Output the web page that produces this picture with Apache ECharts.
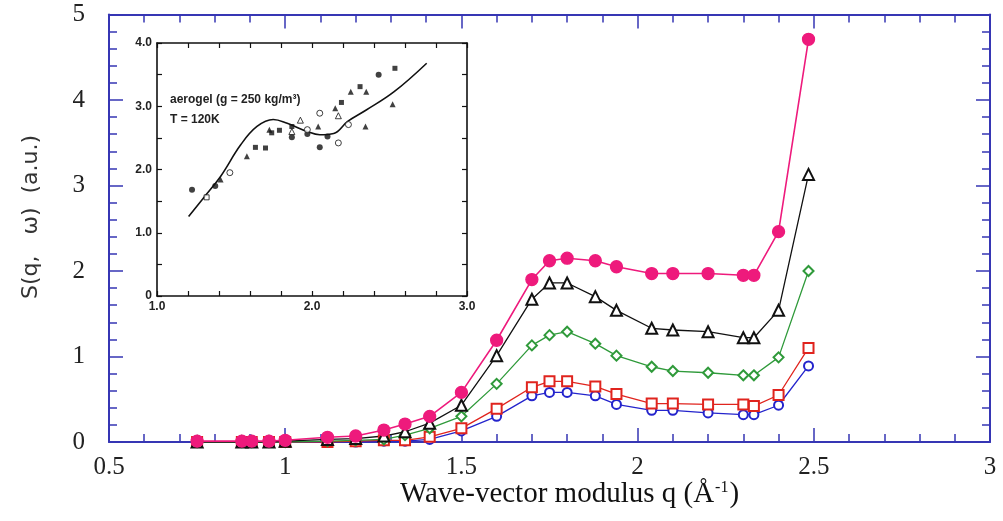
<!DOCTYPE html>
<html>
<head>
<meta charset="utf-8">
<script src="https://cdn.jsdelivr.net/npm/echarts@6/dist/echarts.min.js"></script>
<style>
html, body { margin: 0; padding: 0; background: #fff; }
#chart { width: 1003px; height: 521px; }
</style>
</head>
<body>
<div id="chart"></div>
<script>
// Wave-vector values (Å^-1) shared by all five curves
const qValues = [0.75, 0.877, 0.905, 0.954, 1.0, 1.12, 1.2, 1.28, 1.34, 1.41, 1.5, 1.6, 1.7, 1.75, 1.8, 1.88, 1.94, 2.04, 2.1, 2.2, 2.3, 2.33, 2.4, 2.485];

// S(q, ω) for each curve (a.u.)
const sPink  = [0.01, 0.01, 0.01, 0.01, 0.02, 0.055, 0.07, 0.14, 0.21, 0.30, 0.58, 1.19, 1.90, 2.12, 2.15, 2.12, 2.05, 1.97, 1.97, 1.97, 1.95, 1.95, 2.46, 4.71];
const sBlack = [0, 0, 0, 0, 0.01, 0.03, 0.04, 0.07, 0.12, 0.22, 0.43, 1.01, 1.67, 1.86, 1.86, 1.70, 1.54, 1.33, 1.31, 1.29, 1.22, 1.22, 1.54, 3.13];
const sGreen = [0, 0, 0, 0, 0, 0.01, 0.02, 0.03, 0.08, 0.16, 0.30, 0.68, 1.13, 1.25, 1.29, 1.15, 1.01, 0.88, 0.83, 0.81, 0.78, 0.78, 0.99, 2.00];
const sRed   = [0, 0, 0, 0, 0, 0, 0.01, 0.02, 0.02, 0.06, 0.16, 0.39, 0.64, 0.71, 0.71, 0.65, 0.56, 0.45, 0.45, 0.44, 0.44, 0.42, 0.55, 1.10];
const sBlue  = [0, 0, 0, 0, 0, 0, 0, 0.01, 0.01, 0.03, 0.13, 0.30, 0.54, 0.58, 0.58, 0.54, 0.44, 0.37, 0.37, 0.34, 0.32, 0.32, 0.43, 0.89];

// Inset: aerogel (250 kg/m3), T = 120 K
const insetCurveQ = [1.204, 1.30, 1.41, 1.54, 1.645, 1.75, 1.84, 1.97, 2.05, 2.14, 2.23, 2.35, 2.53, 2.74];
const insetCurveS = [1.256, 1.55, 1.89, 2.39, 2.68, 2.79, 2.73, 2.60, 2.55, 2.57, 2.76, 2.94, 3.23, 3.68];
const insetFilledCircles = [[1.226, 1.68], [1.376, 1.74], [1.87, 2.51], [1.97, 2.56], [2.05, 2.35], [2.10, 2.52], [2.43, 3.50]];
const insetOpenCircles   = [[1.47, 1.95], [1.97, 2.63], [2.05, 2.89], [2.17, 2.42], [2.235, 2.71]];
const insetOpenSquares   = [[1.32, 1.56]];
const insetFilledTris    = [[1.41, 1.84], [1.58, 2.21], [1.725, 2.63], [2.04, 2.68], [2.15, 2.97], [2.25, 3.23], [2.35, 3.23], [2.345, 2.68], [2.52, 3.03]];
const insetOpenTris      = [[1.925, 2.78], [2.17, 2.85], [1.87, 2.60]];
const insetFilledSquares = [[1.635, 2.35], [1.70, 2.34], [1.74, 2.58], [1.79, 2.62], [1.87, 2.68], [2.19, 3.06], [2.31, 3.31], [2.535, 3.60]];

const AXIS_BLUE = '#3636b4';
const pair = (xs, ys) => xs.map((x, i) => [x, ys[i]]);

const chart = echarts.init(document.getElementById('chart'));

function mainAxis(type, position, showLabel, extra) {
  return Object.assign({
    type: 'value',
    gridIndex: 0,
    position: position,
    axisLine: { show: true, onZero: false, lineStyle: { color: AXIS_BLUE, width: 2 } },
    axisTick: { show: true, inside: true, length: 14, lineStyle: { color: AXIS_BLUE, width: 1.5 } },
    minorTick: { show: true, splitNumber: 5, length: 8, lineStyle: { color: AXIS_BLUE, width: 1.5 } },
    splitLine: { show: false },
    axisLabel: showLabel ? {
      show: true,
      fontFamily: 'Liberation Serif',
      fontSize: 25,
      color: '#222',
      margin: type === 'x' ? 13 : 24,
      formatter: v => String(v)
    } : { show: false }
  }, extra);
}

function insetAxis(position, showLabel, extra, minorSplit) {
  return Object.assign({
    type: 'value',
    position: position,
    z: 8,
    axisLine: { show: true, onZero: false, lineStyle: { color: '#111', width: 1.6 } },
    axisTick: { show: true, inside: true, length: 5, lineStyle: { color: '#111', width: 1.2 } },
    minorTick: { show: true, splitNumber: minorSplit, length: 5, lineStyle: { color: '#111', width: 1.2 } },
    splitLine: { show: false },
    axisLabel: showLabel ? {
      show: true,
      fontFamily: 'Liberation Sans',
      fontWeight: 'bold',
      fontSize: 12,
      color: '#222',
      margin: 5,
      formatter: v => (v === 0 ? '0' : v.toFixed(1))
    } : { show: false }
  }, extra);
}

function curve(name, data, color, symbol, size, width) {
  return {
    name: name,
    type: 'line',
    xAxisIndex: 0,
    yAxisIndex: 0,
    data: pair(qValues, data),
    symbol: symbol,
    symbolSize: size,
    showAllSymbol: true,
    lineStyle: { color: color, width: width },
    itemStyle: { color: color, borderColor: color, borderWidth: 1.3 },
    emphasis: { disabled: true },
    animation: false
  };
}

function insetPoints(data, symbol, size, filled) {
  return {
    type: 'scatter',
    xAxisIndex: 2,
    yAxisIndex: 2,
    z: 9,
    data: data,
    symbol: symbol,
    symbolSize: size,
    itemStyle: filled
      ? { color: '#111' }
      : { color: '#fff', borderColor: '#111', borderWidth: 1 },
    emphasis: { disabled: true },
    animation: false
  };
}

chart.setOption({
  backgroundColor: '#fff',
  animation: false,
  grid: [
    { left: 109, right: 13, top: 14.5, bottom: 79 },
    { left: 157, right: 536, top: 43, bottom: 225, show: true, backgroundColor: '#fff', borderWidth: 0, z: 5 }
  ],
  xAxis: [
    mainAxis('x', 'bottom', true, {
      min: 0.5, max: 3, interval: 0.5,
      name: '{a|Wave-vector modulus q (Å}{s|-1}{a|)}',
      nameLocation: 'middle',
      nameGap: 38,
      nameMoveOverlap: false,
      nameTextStyle: {
        padding: [0, 0, 0, 40],
        rich: {
          a: { fontFamily: 'Liberation Serif', fontSize: 29, color: '#111' },
          s: { fontFamily: 'Liberation Serif', fontSize: 16, color: '#111', verticalAlign: 'top', padding: [0, 1, 12, 1] }
        }
      }
    }),
    mainAxis('x', 'top', false, { min: 0.5, max: 3, interval: 0.5 }),
    insetAxis('bottom', true, { gridIndex: 1, min: 1, max: 3, interval: 1 }, 5),
    insetAxis('top', false, { gridIndex: 1, min: 1, max: 3, interval: 1 }, 5)
  ],
  yAxis: [
    mainAxis('y', 'left', true, { min: 0, max: 5, interval: 1 }),
    mainAxis('y', 'right', false, { min: 0, max: 5, interval: 1 }),
    insetAxis('left', true, { gridIndex: 1, min: 0, max: 4, interval: 1 }, 2),
    insetAxis('right', false, { gridIndex: 1, min: 0, max: 4, interval: 1 }, 2)
  ],
  graphic: [
    {
      type: 'text',
      x: 31, y: 217,
      rotation: Math.PI / 2,
      style: {
        text: 'S(q,   ω)  (a.u.)',
        font: '22px "DejaVu Sans"',
        fill: '#333',
        textAlign: 'center',
        textVerticalAlign: 'middle'
      },
      z: 10
    },
    {
      type: 'text',
      x: 170, y: 100,
      style: {
        text: 'aerogel (g = 250 kg/m³)',
        font: 'bold 12px "Liberation Sans"',
        fill: '#222',
        textAlign: 'left',
        textVerticalAlign: 'middle'
      },
      z: 10
    },
    {
      type: 'text',
      x: 170, y: 120,
      style: {
        text: 'T = 120K',
        font: 'bold 12px "Liberation Sans"',
        fill: '#222',
        textAlign: 'left',
        textVerticalAlign: 'middle'
      },
      z: 10
    }
  ],
  series: [
    curve('blue', sBlue, '#2424cc', 'emptyCircle', 9, 1.3),
    curve('red', sRed, '#e0241e', 'emptyRect', 10, 1.3),
    curve('green', sGreen, '#2f9a3a', 'emptyDiamond', 10, 1.3),
    curve('black', sBlack, '#111', 'emptyTriangle', 11, 1.3),
    curve('pink', sPink, '#ee1a7c', 'circle', 12, 1.6),
    {
      type: 'line',
      xAxisIndex: 2,
      yAxisIndex: 2,
      z: 9,
      data: pair(insetCurveQ, insetCurveS),
      smooth: 0.4,
      symbol: 'none',
      lineStyle: { color: '#111', width: 1.6 },
      emphasis: { disabled: true },
      animation: false
    },
    insetPoints(insetFilledCircles, 'circle', 6, true),
    insetPoints(insetOpenCircles, 'circle', 6, false),
    insetPoints(insetOpenSquares, 'rect', 5, false),
    insetPoints(insetFilledTris, 'triangle', 6, true),
    insetPoints(insetOpenTris, 'triangle', 6, false),
    insetPoints(insetFilledSquares, 'rect', 5, true)
  ]
});
</script>
</body>
</html>
